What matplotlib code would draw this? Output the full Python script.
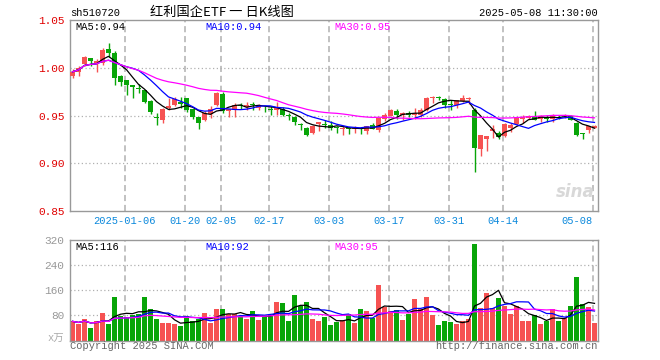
import numpy as np
import pandas as pd
import matplotlib
matplotlib.use('Agg')
import matplotlib.pyplot as plt

## 日K数据 (从图上读出来的)
opens = [0.992, 0.996, 1.004, 1.010, 1.005, 1.005, 1.0195, 1.016, 0.992, 0.987,
         0.982, 0.9785, 0.977, 0.9655, 0.949, 0.9455, 0.9575, 0.961, 0.964, 0.9685,
         0.957, 0.949, 0.9455, 0.952, 0.9608, 0.9725, 0.955, 0.956, 0.961, 0.959,
         0.9615, 0.958, 0.958, 0.957, 0.956, 0.957, 0.951, 0.949, 0.941, 0.937,
         0.932, 0.9413, 0.941, 0.940, 0.9375, 0.936, 0.9367, 0.9355, 0.9375, 0.9337,
         0.9406, 0.9347, 0.9465, 0.950, 0.9552, 0.9503, 0.953, 0.951, 0.951, 0.9562,
         0.969, 0.9695, 0.9677, 0.962, 0.9607, 0.965, 0.967, 0.956, 0.9145, 0.926,
         0.934, 0.932, 0.9285, 0.9372, 0.9417, 0.9465, 0.9476, 0.9493, 0.947, 0.9486,
         0.947, 0.9486, 0.9493, 0.9493, 0.9424, 0.932, 0.9347, 0.9372]
highs = [0.999, 1.002, 1.013, 1.0105, 1.009, 1.021, 1.026, 1.0175, 0.993, 0.987,
         0.982, 0.983, 0.977, 0.966, 0.953, 0.9575, 0.9685, 0.9695, 0.9695, 0.9685,
         0.957, 0.949, 0.9545, 0.9597, 0.9753, 0.9746, 0.957, 0.963, 0.963, 0.964,
         0.964, 0.962, 0.9597, 0.960, 0.9639, 0.9587, 0.953, 0.950, 0.942, 0.938,
         0.9405, 0.9432, 0.945, 0.944, 0.9396, 0.939, 0.938, 0.9396, 0.938, 0.9396,
         0.9424, 0.9476, 0.9528, 0.957, 0.957, 0.9535, 0.955, 0.958, 0.958, 0.970,
         0.971, 0.971, 0.968, 0.966, 0.9667, 0.972, 0.970, 0.958, 0.930, 0.929,
         0.9406, 0.9337, 0.9424, 0.9424, 0.949, 0.9503, 0.951, 0.9545, 0.9503, 0.951,
         0.952, 0.9503, 0.952, 0.9503, 0.943, 0.932, 0.939, 0.9406]
lows = [0.990, 0.992, 1.002, 1.0025, 0.996, 1.0035, 1.012, 0.982, 0.981, 0.972,
        0.9685, 0.974, 0.963, 0.952, 0.940, 0.942, 0.956, 0.960, 0.958, 0.9535,
        0.946, 0.936, 0.944, 0.9476, 0.9597, 0.9528, 0.949, 0.949, 0.957, 0.956,
        0.956, 0.956, 0.9535, 0.951, 0.951, 0.950, 0.945, 0.9407, 0.9345, 0.929,
        0.931, 0.9344, 0.9375, 0.935, 0.932, 0.930, 0.931, 0.932, 0.931, 0.931,
        0.9355, 0.9326, 0.944, 0.9493, 0.9465, 0.9458, 0.949, 0.9465, 0.949, 0.955,
        0.963, 0.9667, 0.958, 0.9555, 0.958, 0.964, 0.962, 0.891, 0.908, 0.913,
        0.9268, 0.925, 0.9275, 0.933, 0.9406, 0.942, 0.946, 0.9458, 0.9434, 0.9434,
        0.9434, 0.947, 0.9476, 0.945, 0.9285, 0.925, 0.932, 0.937]
closes = [0.996, 1.000, 1.012, 1.007, 1.007, 1.019, 1.016, 0.989, 0.985, 0.982,
          0.980, 0.978, 0.964, 0.9535, 0.948, 0.957, 0.960, 0.967, 0.962, 0.9563,
          0.949, 0.942, 0.9525, 0.957, 0.9736, 0.9545, 0.9565, 0.9615, 0.960, 0.9615,
          0.961, 0.960, 0.9575, 0.956, 0.958, 0.951, 0.950, 0.943, 0.940, 0.930,
          0.9396, 0.943, 0.940, 0.937, 0.937, 0.9365, 0.936, 0.9375, 0.9355, 0.9396,
          0.9365, 0.9476, 0.9503, 0.9555, 0.9503, 0.9528, 0.951, 0.953, 0.9562, 0.969,
          0.970, 0.969, 0.9615, 0.961, 0.966, 0.9684, 0.9685, 0.9165, 0.930, 0.9285,
          0.9355, 0.9275, 0.9413, 0.9406, 0.9483, 0.9486, 0.950, 0.9458, 0.9493, 0.947,
          0.9493, 0.948, 0.951, 0.9458, 0.9295, 0.931, 0.939, 0.939]
volumes = [61, 54, 70, 40, 61, 86, 54, 139, 78, 76,
           80, 84, 139, 100, 68, 55, 55, 52, 46, 78,
           61, 68, 87, 55, 100, 100, 83, 83, 79, 69,
           94, 66, 77, 80, 124, 119, 63, 145, 109, 124,
           69, 63, 76, 49, 59, 66, 83, 55, 100, 94,
           71, 177, 107, 94, 97, 65, 84, 132, 100, 139,
           81, 49, 62, 59, 52, 63, 67, 308, 102, 151,
           103, 135, 110, 84, 109, 62, 62, 80, 52, 63,
           100, 62, 71, 110, 203, 116, 107, 55]

date_idx = [9, 19, 25, 33, 43, 53, 63, 72, 87]
date_labels = ['2025-01-06', '01-20', '02-05', '02-17', '03-03',
               '03-17', '03-31', '04-14', '05-08']
price_ticks = [0.85, 0.90, 0.95, 1.00, 1.05]
vol_ticks = [80, 160, 240, 320]
price_ma_text = ['MA5:0.94', 'MA10:0.94', 'MA30:0.95']
vol_ma_text = ['MA5:116', 'MA10:92', 'MA30:95']

o = np.array(opens)
h = np.array(highs)
l = np.array(lows)
c = np.array(closes)
v = np.array(volumes)
x = np.arange(len(c))

RED = '#f65252'
GREEN = '#08a508'
up = c >= o
cols = np.where(up, RED, GREEN)

s = pd.Series(c)
ma5 = s.rolling(5, min_periods=1).mean()
ma10 = s.rolling(10, min_periods=1).mean()
ma30 = s.rolling(30, min_periods=1).mean()
vs = pd.Series(v)
vma5 = vs.rolling(5, min_periods=1).mean()
vma10 = vs.rolling(10, min_periods=1).mean()
vma30 = vs.rolling(30, min_periods=1).mean()

W, H = 660, 360
fig = plt.figure(figsize=(6.6, 3.6), dpi=100)
mono = 'Liberation Mono'
ma_cols = ['black', '#0000ff', '#ff00ff']
label_x = [0.01, (205 - 70) / 527.7, (334 - 70) / 527.7]

# 픽셀 -> figure 좌표
def box(x0, y0, x1, y1):
    return [x0 / W, 1 - y1 / H, (x1 - x0) / W, (y1 - y0) / H]

ax = fig.add_axes(box(70, 20.3, 597.7, 211))
axv = fig.add_axes(box(70, 240, 597.7, 340.5))

xl = ((70 - 72.5) / 6, (597.7 - 72.5) / 6)

for a in (ax, axv):
    a.set_xlim(*xl)
    for sp in a.spines.values():
        sp.set_color('#999999')
        sp.set_linewidth(1.0)
    a.tick_params(length=0, pad=4)
    a.set_xticks([])
    for d in date_idx:
        a.axvline(d - 0.3, color='#b0b0b0', lw=1.1, dashes=(4, 2.5), zorder=1)

## K线
ax.set_ylim(0.85, 1.05)
for yv in [0.90, 0.95, 1.00]:
    ax.axhline(yv, color='#b0b0b0', lw=0.9, dashes=(1, 2), zorder=1)
body_b = np.minimum(o, c)
body_h = np.maximum(np.abs(c - o), 0.0008)
ax.vlines(x, l, h, colors=cols, lw=1.0, zorder=2)
ax.bar(x, body_h, bottom=body_b, width=0.8, color=cols, lw=0, zorder=3)
for m, col in zip([ma5, ma10, ma30], ma_cols):
    ax.plot(x, m, color=col, lw=0.9, zorder=4)
ax.set_yticks(price_ticks)
ax.set_yticklabels(['%.2f' % t for t in price_ticks], color='#e00000',
                   family=mono, fontsize=8)
for txt, col, lx in zip(price_ma_text, ma_cols, label_x):
    ax.text(lx, 0.965, txt, transform=ax.transAxes, family=mono, fontsize=7.5,
            color=col, va='center')
ax.text(0.995, 0.1, 'sina', transform=ax.transAxes, ha='right', va='center',
        fontsize=12, fontweight='bold', style='italic', color='#d8d8d8', family='DejaVu Sans')

for d, lab in zip(date_idx, date_labels):
    ha = 'right' if d == date_idx[-1] else 'center'
    ax.text(d - 0.3, -0.052, lab, transform=ax.get_xaxis_transform(), ha=ha, va='center',
            family=mono, fontsize=7.5, color='#0a88dc')

## 成交量
axv.set_ylim(0, 320)
for yv in [80, 160, 240]:
    axv.axhline(yv, color='#b0b0b0', lw=0.9, dashes=(1, 2), zorder=1)
axv.bar(x, v, width=0.8, color=cols, lw=0, zorder=2)
for m, col in zip([vma5, vma10, vma30], ma_cols):
    axv.plot(x, m, color=col, lw=0.9, zorder=3)
axv.set_yticks(vol_ticks)
axv.set_yticklabels([str(t) for t in vol_ticks], color='#999999',
                    family=mono, fontsize=8)
axv.text(-0.012, 0.015, 'x万', transform=axv.transAxes, ha='right', va='center',
         family=[mono, 'Noto Sans CJK SC'], fontsize=7.5, color='#aaaaaa')
for txt, col, lx in zip(vol_ma_text, ma_cols, label_x):
    axv.text(lx, 0.93, txt, transform=axv.transAxes, family=mono, fontsize=7.5,
             color=col, va='center')

## 头部和底部文字
fig.text(70 / W, 1 - 13 / H, 'sh510720', family=mono, fontsize=7.5, va='center')
fig.text(222 / W, 1 - 12.5 / H, '红利国企ETF 一 日K线图', family=['Noto Sans CJK SC'],
         fontsize=9.5, ha='center', va='center')
fig.text(597.7 / W, 1 - 12.5 / H, '2025-05-08 11:30:00', family=mono, fontsize=7.5,
         ha='right', va='center')
fig.text(70 / W, 1 - 346 / H, 'Copyright 2025 SINA.COM', family=mono, fontsize=7.5,
         color='#666666', va='center')
fig.text(597.7 / W, 1 - 346 / H, 'http://finance.sina.com.cn', family=mono, fontsize=7.5,
         color='#666666', ha='right', va='center')

fig.savefig('out.png', dpi=100, facecolor='white')
